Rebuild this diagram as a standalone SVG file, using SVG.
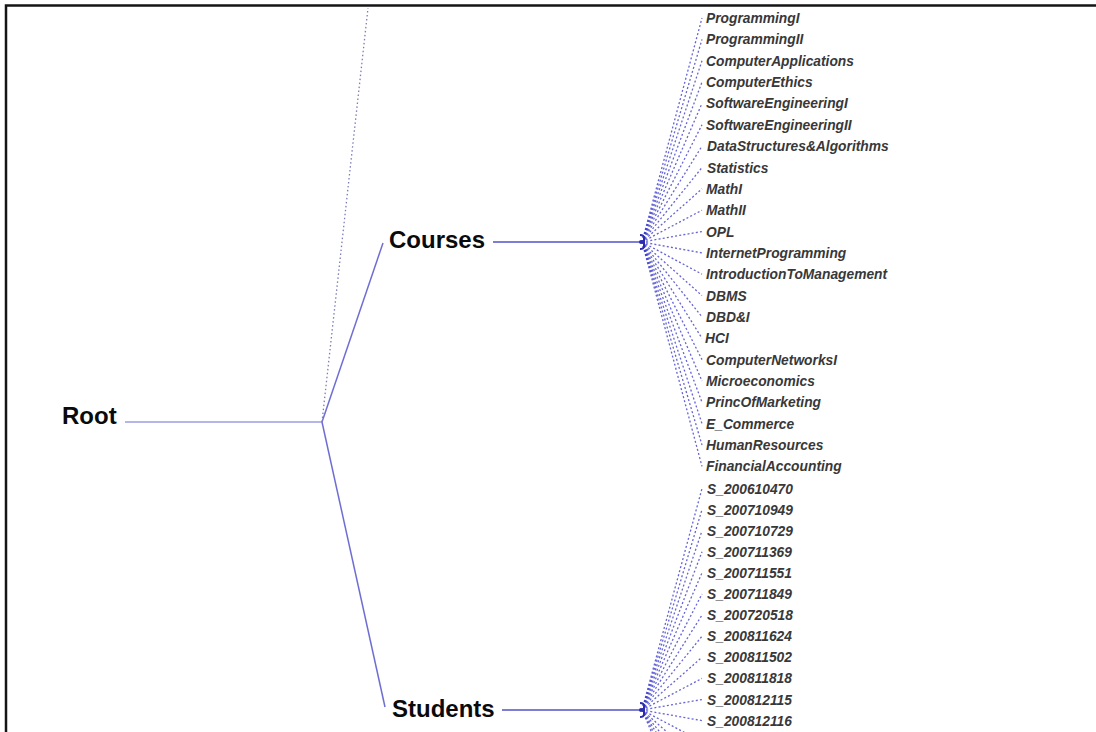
<svg xmlns="http://www.w3.org/2000/svg" width="1096" height="732" viewBox="0 0 1096 732">
  <style>
    .big { font-family: "Liberation Sans", Arial, sans-serif; font-weight: bold; font-size: 24px; fill: #0a0a0a; }
    .leaf { font-family: "Liberation Sans", Arial, sans-serif; font-weight: bold; font-style: italic; font-size: 13.8px; fill: #383838; }
    .edge { stroke: #6e6ed2; stroke-width: 1.5; fill: none; }
    .light { stroke: #9c9ce2; stroke-width: 1.5; fill: none; }
    .dark { stroke: #5252c4; stroke-width: 1.5; fill: none; }
    .faint { stroke: #7c7cb8; stroke-width: 1.3; stroke-dasharray: 1.5 2.5; fill: none; }
    .fan { stroke: #3e3ecc; stroke-width: 1.3; stroke-dasharray: 2 2.2; fill: none; opacity: 0.8; }
    .hub { stroke: #2c2cac; stroke-width: 2; fill: none; }
  </style>

  <rect x="0" y="0" width="1096" height="732" fill="#ffffff"/>
  <!-- frame on the top and left -->
  <path d="M6,732 V5.5 H1096" stroke="#151515" stroke-width="2.5" fill="none"/>

  <g id="connectors">
    <!-- trunk edges -->
    <line class="light" x1="125" y1="422" x2="322" y2="422"/>
    <line class="edge" x1="322" y1="422" x2="383" y2="243"/>
    <line class="edge" x1="322" y1="422" x2="385" y2="707"/>
    <line class="faint" x1="322" y1="422" x2="368" y2="8"/>
    <line class="dark" x1="493" y1="242" x2="640" y2="242"/>
    <line class="dark" x1="502" y1="710" x2="640" y2="710"/>

    <!-- Courses fan -->
    <g id="courses-fan">
      <line class="fan" x1="642" y1="242" x2="702" y2="18"/>
      <line class="fan" x1="642" y1="242" x2="702" y2="39.4"/>
      <line class="fan" x1="642" y1="242" x2="702" y2="60.7"/>
      <line class="fan" x1="642" y1="242" x2="702" y2="82.1"/>
      <line class="fan" x1="642" y1="242" x2="702" y2="103.4"/>
      <line class="fan" x1="642" y1="242" x2="702" y2="124.8"/>
      <line class="fan" x1="642" y1="242" x2="702" y2="146.1"/>
      <line class="fan" x1="642" y1="242" x2="702" y2="167.5"/>
      <line class="fan" x1="642" y1="242" x2="702" y2="188.8"/>
      <line class="fan" x1="642" y1="242" x2="702" y2="210.2"/>
      <line class="fan" x1="642" y1="242" x2="702" y2="231.5"/>
      <line class="fan" x1="642" y1="242" x2="702" y2="252.9"/>
      <line class="fan" x1="642" y1="242" x2="702" y2="274.2"/>
      <line class="fan" x1="642" y1="242" x2="702" y2="295.6"/>
      <line class="fan" x1="642" y1="242" x2="702" y2="316.9"/>
      <line class="fan" x1="642" y1="242" x2="702" y2="338.3"/>
      <line class="fan" x1="642" y1="242" x2="702" y2="359.6"/>
      <line class="fan" x1="642" y1="242" x2="702" y2="381"/>
      <line class="fan" x1="642" y1="242" x2="702" y2="402.3"/>
      <line class="fan" x1="642" y1="242" x2="702" y2="423.7"/>
      <line class="fan" x1="642" y1="242" x2="702" y2="445"/>
      <line class="fan" x1="642" y1="242" x2="702" y2="466.4"/>
      <path class="hub" d="M640,235 Q644,235 644,238 V246 Q644,249 640,249"/>
      <circle cx="641" cy="242" r="2" fill="#2c2cac"/>
    </g>

    <!-- Students fan -->
    <g id="students-fan">
      <line class="fan" x1="642" y1="710" x2="702" y2="488.5"/>
      <line class="fan" x1="642" y1="710" x2="702" y2="509.6"/>
      <line class="fan" x1="642" y1="710" x2="702" y2="530.7"/>
      <line class="fan" x1="642" y1="710" x2="702" y2="551.8"/>
      <line class="fan" x1="642" y1="710" x2="702" y2="572.9"/>
      <line class="fan" x1="642" y1="710" x2="702" y2="594"/>
      <line class="fan" x1="642" y1="710" x2="702" y2="615.1"/>
      <line class="fan" x1="642" y1="710" x2="702" y2="636.2"/>
      <line class="fan" x1="642" y1="710" x2="702" y2="657.3"/>
      <line class="fan" x1="642" y1="710" x2="702" y2="678.4"/>
      <line class="fan" x1="642" y1="710" x2="702" y2="699.5"/>
      <line class="fan" x1="642" y1="710" x2="702" y2="720.6"/>
      <!-- edges continuing below the bottom edge -->
      <line class="fan" x1="642" y1="710" x2="702" y2="741.7"/>
      <line class="fan" x1="642" y1="710" x2="702" y2="762.8"/>
      <line class="fan" x1="642" y1="710" x2="702" y2="783.9"/>
      <line class="fan" x1="642" y1="710" x2="702" y2="805"/>
      <line class="fan" x1="642" y1="710" x2="702" y2="826"/>
      <line class="fan" x1="642" y1="710" x2="702" y2="850"/>
      <path class="hub" d="M640,703 Q644,703 644,706 V714 Q644,717 640,717"/>
      <circle cx="641" cy="710" r="2" fill="#2c2cac"/>
    </g>
  </g>

  <g id="node-root"><text class="big" x="62" y="424">Root</text></g>
  <g id="node-courses"><text class="big" x="389" y="248">Courses</text></g>
  <g id="node-students"><text class="big" x="392" y="717">Students</text></g>

  <g id="course-leaves">
    <g id="c-programming1"><text class="leaf" x="706" y="23">ProgrammingI</text></g>
    <g id="c-programming2"><text class="leaf" x="706" y="44.4">ProgrammingII</text></g>
    <g id="c-compapps"><text class="leaf" x="706" y="65.7">ComputerApplications</text></g>
    <g id="c-compethics"><text class="leaf" x="706" y="87.1">ComputerEthics</text></g>
    <g id="c-se1"><text class="leaf" x="706" y="108.4">SoftwareEngineeringI</text></g>
    <g id="c-se2"><text class="leaf" x="706" y="129.8">SoftwareEngineeringII</text></g>
    <g id="c-dsa"><text class="leaf" x="707" y="151.1">DataStructures&amp;Algorithms</text></g>
    <g id="c-stats"><text class="leaf" x="707" y="172.5">Statistics</text></g>
    <g id="c-math1"><text class="leaf" x="706" y="193.8">MathI</text></g>
    <g id="c-math2"><text class="leaf" x="706" y="215.2">MathII</text></g>
    <g id="c-opl"><text class="leaf" x="706" y="236.5">OPL</text></g>
    <g id="c-internet"><text class="leaf" x="706" y="257.9">InternetProgramming</text></g>
    <g id="c-mgmt"><text class="leaf" x="706" y="279.2">IntroductionToManagement</text></g>
    <g id="c-dbms"><text class="leaf" x="706" y="300.6">DBMS</text></g>
    <g id="c-dbdi"><text class="leaf" x="706" y="321.9">DBD&amp;I</text></g>
    <g id="c-hci"><text class="leaf" x="705" y="343.3">HCI</text></g>
    <g id="c-networks"><text class="leaf" x="706" y="364.6">ComputerNetworksI</text></g>
    <g id="c-micro"><text class="leaf" x="706" y="386">Microeconomics</text></g>
    <g id="c-marketing"><text class="leaf" x="706" y="407.3">PrincOfMarketing</text></g>
    <g id="c-ecommerce"><text class="leaf" x="706" y="428.7">E_Commerce</text></g>
    <g id="c-hr"><text class="leaf" x="706" y="450">HumanResources</text></g>
    <g id="c-accounting"><text class="leaf" x="706" y="471.4">FinancialAccounting</text></g>
  </g>

  <g id="student-leaves">
    <g id="s-200610470"><text class="leaf" x="707" y="493.5">S_200610470</text></g>
    <g id="s-200710949"><text class="leaf" x="707" y="514.6">S_200710949</text></g>
    <g id="s-200710729"><text class="leaf" x="707" y="535.7">S_200710729</text></g>
    <g id="s-200711369"><text class="leaf" x="707" y="556.8">S_200711369</text></g>
    <g id="s-200711551"><text class="leaf" x="707" y="577.9">S_200711551</text></g>
    <g id="s-200711849"><text class="leaf" x="707" y="599">S_200711849</text></g>
    <g id="s-200720518"><text class="leaf" x="707" y="620.1">S_200720518</text></g>
    <g id="s-200811624"><text class="leaf" x="707" y="641.2">S_200811624</text></g>
    <g id="s-200811502"><text class="leaf" x="707" y="662.3">S_200811502</text></g>
    <g id="s-200811818"><text class="leaf" x="707" y="683.4">S_200811818</text></g>
    <g id="s-200812115"><text class="leaf" x="707" y="704.5">S_200812115</text></g>
    <g id="s-200812116"><text class="leaf" x="707" y="725.6">S_200812116</text></g>
  </g>
</svg>
